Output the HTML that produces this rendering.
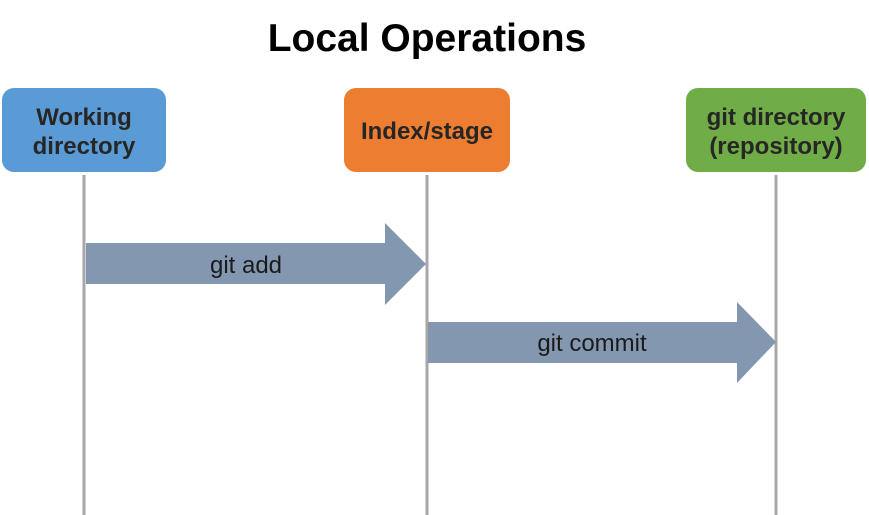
<!DOCTYPE html>
<html><head><style>
body{margin:0;width:869px;height:515px;background:#fff;overflow:hidden;font-family:"Liberation Sans",Arial,sans-serif}
</style></head><body>
<svg width="869" height="515" xmlns="http://www.w3.org/2000/svg" style="position:absolute;left:0;top:0">
<text x="427" y="51" text-anchor="middle" font-size="39" font-weight="bold" fill="#000" font-family="Liberation Sans,Arial,sans-serif">Local Operations</text>
<line x1="84" y1="175" x2="84" y2="515" stroke="#aaa6a8" stroke-width="3"/>
<line x1="427" y1="175" x2="427" y2="515" stroke="#aaa6a8" stroke-width="3"/>
<line x1="776" y1="175" x2="776" y2="515" stroke="#aaa6a8" stroke-width="3"/>
<rect x="2" y="88" width="164" height="84" rx="12" fill="#5b9bd5"/>
<rect x="344" y="88" width="166" height="84" rx="12" fill="#ed7d31"/>
<rect x="686" y="88" width="180" height="84" rx="12" fill="#70ad47"/>
<g font-size="24" font-weight="bold" fill="#262626" text-anchor="middle" font-family="Liberation Sans,Arial,sans-serif">
<text x="84" y="125">Working</text><text x="84" y="154">directory</text>
<text x="427" y="139">Index/stage</text>
<text x="776" y="125">git directory</text><text x="776" y="154">(repository)</text>
</g>
<polygon points="86,243 385,243 385,223 426,264 385,305 385,284 86,284" fill="#8497b0"/>
<polygon points="428,322 737,322 737,302 776,342 737,383 737,363 428,363" fill="#8497b0"/>
<g font-size="24" fill="#1a1a1a" text-anchor="middle" font-family="Liberation Sans,Arial,sans-serif">
<text x="246" y="273">git add</text>
<text x="592" y="351">git commit</text>
</g>
</svg>
</body></html>
